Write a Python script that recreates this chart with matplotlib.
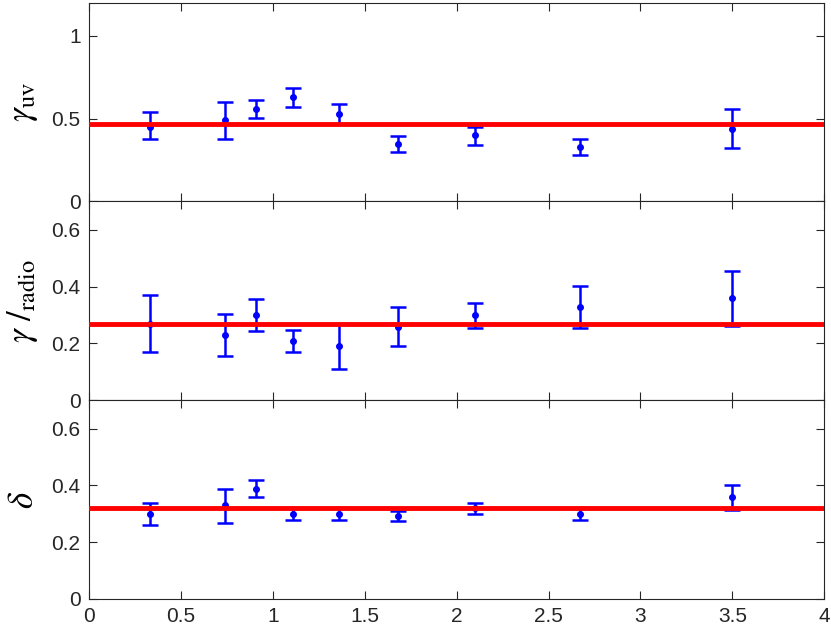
import matplotlib
matplotlib.use("Agg")
import matplotlib.pyplot as plt
import numpy as np

plt.rcParams["font.family"] = ["Liberation Sans", "DejaVu Sans"]
plt.rcParams["mathtext.fontset"] = "stix"

# x positions shared by all three panels
x = np.array([0.33, 0.74, 0.91, 1.11, 1.36, 1.68, 2.10, 2.67, 3.50])

# gamma_uv: value, lower end, upper end
uv_val = np.array([0.449, 0.489, 0.558, 0.628, 0.528, 0.349, 0.399, 0.328, 0.439])
uv_lo = np.array([0.379, 0.375, 0.506, 0.568, 0.465, 0.298, 0.343, 0.278, 0.320])
uv_hi = np.array([0.538, 0.602, 0.612, 0.687, 0.588, 0.397, 0.447, 0.379, 0.558])
uv_fit = 0.467

# gamma radio
radio_val = np.array([0.270, 0.230, 0.300, 0.210, 0.190, 0.258, 0.300, 0.329, 0.360])
radio_lo = np.array([0.171, 0.157, 0.245, 0.171, 0.111, 0.192, 0.256, 0.256, 0.262])
radio_hi = np.array([0.371, 0.305, 0.356, 0.249, 0.268, 0.328, 0.344, 0.404, 0.455])
radio_fit = 0.270

# delta
delta_val = np.array([0.300, 0.332, 0.389, 0.300, 0.300, 0.294, 0.320, 0.300, 0.359])
delta_lo = np.array([0.259, 0.269, 0.359, 0.279, 0.279, 0.274, 0.299, 0.278, 0.315])
delta_hi = np.array([0.339, 0.388, 0.419, 0.320, 0.320, 0.309, 0.339, 0.320, 0.402])
delta_fit = 0.321

panels = [
    (uv_val, uv_lo, uv_hi, uv_fit, r"$\gamma_{\mathrm{uv}}$", (0, 1.2), [0, 0.5, 1], ["0", "0.5", "1"]),
    (radio_val, radio_lo, radio_hi, radio_fit, r"$\gamma\ /_{\mathrm{radio}}$", (0, 0.7),
     [0, 0.2, 0.4, 0.6], ["0", "0.2", "0.4", "0.6"]),
    (delta_val, delta_lo, delta_hi, delta_fit, r"$\delta$", (0, 0.7),
     [0, 0.2, 0.4, 0.6], ["0", "0.2", "0.4", "0.6"]),
]

fig = plt.figure(figsize=(8.31, 6.36), dpi=100)

left, width = 0.107, 0.885
height = 0.3125
bottoms = [0.0582 + 2 * height, 0.0582 + height, 0.0582]

for i, (val, lo, hi, fit, label, ylim, yticks, yticklabels) in enumerate(panels):
    ax = fig.add_axes([left, bottoms[i], width, height])
    ax.errorbar(x, val, yerr=[val - lo, hi - val], fmt="o", color="#0000ff",
                ecolor="#0000ff", markersize=4, elinewidth=1.8, capsize=6,
                capthick=1.8, zorder=2)
    ax.axhline(fit, color="#ff0000", linewidth=3.5, zorder=3)

    ax.set_xlim(0, 4)
    ax.set_ylim(*ylim)
    ax.set_xticks(np.arange(0, 4.01, 0.5))
    ax.set_yticks(yticks)
    ax.set_yticklabels(yticklabels)
    if i < 2:
        ax.set_xticklabels([])
    else:
        ax.set_xticklabels(["0", "0.5", "1", "1.5", "2", "2.5", "3", "3.5", "4"])

    ax.tick_params(direction="in", top=True, right=True, length=6, width=0.8,
                   color="#262626", labelcolor="#262626", labelsize=15, pad=6)
    for spine in ax.spines.values():
        spine.set_color("#262626")
        spine.set_linewidth(0.8)

    ax.set_ylabel(label, fontsize=25, labelpad=8)

fig.savefig("out.png", dpi=100)
